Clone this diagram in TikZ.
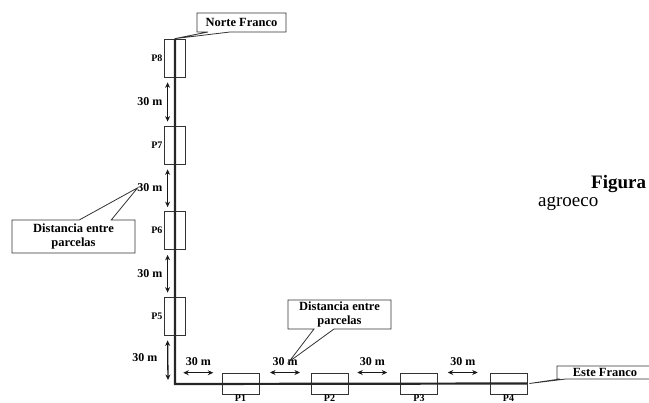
\documentclass[tikz,border=0pt]{standalone}
\usepackage{fontspec}
\setmainfont{Liberation Serif}
\usetikzlibrary{calc,positioning,arrows.meta,shapes.callouts}

\tikzset{
  plotbox/.style={draw=black!80, line width=0.8pt, inner sep=0pt},
  vplot/.style={plotbox, minimum width=21pt, minimum height=38pt},
  hplot/.style={plotbox, minimum width=37pt, minimum height=21pt},
  plab/.style={font=\fontsize{10}{12}\selectfont\bfseries, inner sep=0.5pt},
  dlab/.style={font=\fontsize{12}{14}\selectfont\bfseries, inner sep=0.5pt},
  dist/.style={{Stealth[length=5.5pt,width=5pt]}-{Stealth[length=5.5pt,width=5pt]},
    line width=1.3pt, black!90},
  note/.style={rectangle callout, draw=black!80, line width=0.8pt,
    font=\fontsize{12.5}{14}\selectfont\bfseries, align=center, inner sep=1pt},
}

\begin{document}
\begin{tikzpicture}[x=1pt, y=-1pt]
\useasboundingbox (0,0) rectangle (649,403);
% plots on the north side
\node[vplot] (p8) at (175,58) {};
\node[vplot] (p7) at (175,145) {};
\node[vplot] (p6) at (175,230.5) {};
\node[vplot] (p5) at (175,316) {};
\coordinate (corner) at (175,384);
% plots on the east side
\node[hplot] (p1) at (240.5,383.5) {};
\node[hplot] (p2) at (329.5,383.5) {};
\node[hplot] (p3) at (419,383.5) {};
\node[hplot] (p4) at (508.5,383.5) {};
\draw[line width=2.2pt, black!85] (p8.north) -- (corner) -- (p4.east);
% plot names
\node[plab, left=1pt of p8] (l8) {P8};
\node[plab, left=1pt of p7] (l7) {P7};
\node[plab, left=1pt of p6] (l6) {P6};
\node[plab, left=1pt of p5] (l5) {P5};
\node[plab, below=0pt of p1, inner sep=0pt] (l1) {P1};
\node[plab, below=0pt of p2, inner sep=0pt] (l2) {P2};
\node[plab, below=0pt of p3, inner sep=0pt] (l3) {P3};
\node[plab, below=0pt of p4, inner sep=0pt] (l4) {P4};
% distances, north side
\draw[dist] ($(p8.south west)+(3.5,5)$) -- ($(p7.north west)+(3.5,-4)$);
\draw[dist] ($(p7.south west)+(3.5,5)$) -- ($(p6.north west)+(3.5,-4)$);
\draw[dist] ($(p6.south west)+(3.5,5)$) -- ($(p5.north west)+(3.5,-4)$);
\draw[dist] ($(p5.south west)+(3.5,5)$) -- ($(corner)+(-7,-4)$);
\node[dlab, anchor=east] (d1) at ($(p8.south west)!.5!(p7.north west)+(-1,0)$) {30 m};
\node[dlab, anchor=east] (d2) at ($(p7.south west)!.5!(p6.north west)+(-1,0)$) {30 m};
\node[dlab, anchor=east] (d3) at ($(p6.south west)!.5!(p5.north west)+(-1,0)$) {30 m};
\node[dlab, anchor=east] (d4) at ($(p5.south west)!.5!(corner)+(-11.5,-2)$) {30 m};
% distances, east side
\coordinate (g1) at ($(corner)!.5!(p1.west)+(0,-11)$);
\coordinate (g2) at ($(p1.east)!.5!(p2.west)+(0,-11)$);
\coordinate (g3) at ($(p2.east)!.5!(p3.west)+(-2,-11)$);
\coordinate (g4) at ($(p3.east)!.5!(p4.west)+(-1,-11)$);
\draw[dist] ($(g1)+(-15,0)$) -- ($(g1)+(15,0)$);
\draw[dist] ($(g2)+(-15,0)$) -- ($(g2)+(15,0)$);
\draw[dist] ($(g3)+(-15,0)$) -- ($(g3)+(15,0)$);
\draw[dist] ($(g4)+(-15,0)$) -- ($(g4)+(15,0)$);
\node[dlab, above=6pt of g1] (h1) {30 m};
\node[dlab, above=6pt of g2] (h2) {30 m};
\node[dlab, above=6pt of g3] (h3) {30 m};
\node[dlab, above=6pt of g4] (h4) {30 m};
% callouts
\node[note, minimum width=89pt, minimum height=19pt,
  callout absolute pointer={(p8.north)}, callout pointer width=22pt]
  (nf) at (241.5,22.5) {Norte Franco};
\node[note, minimum width=123pt, minimum height=33pt,
  callout absolute pointer={([xshift=1pt]d2.west)}, callout pointer width=32pt]
  (dl) at (73.5,236.5) {Distancia entre\\parcelas};
\node[note, minimum width=103pt, minimum height=29pt,
  callout absolute pointer={([xshift=4pt]h2.center)}, callout pointer width=20pt]
  (dm) at (339.5,314.5) {Distancia entre\\parcelas};
\node[note, minimum width=96pt, minimum height=13pt, inner sep=0pt,
  callout absolute pointer={([xshift=2pt]p4.east)}, callout pointer width=6pt]
  (ef) at (605,372.5) {Este Franco};
% caption, cut by the page edge
\node[anchor=base west, inner sep=0pt, font=\fontsize{19}{21}\selectfont\bfseries]
  (fig) at (591,189) {Figura};
\node[anchor=base west, inner sep=0pt, font=\fontsize{19}{21}\selectfont]
  (agro) at (538,207) {agroeco};
\end{tikzpicture}
\end{document}
